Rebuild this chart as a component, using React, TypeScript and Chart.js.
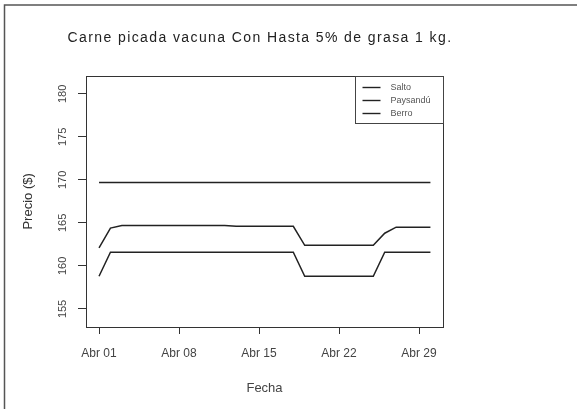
import React, { useEffect, useRef } from "react";
import { Chart, registerables } from "chart.js";

Chart.register(...registerables);

// Días de abril (índice 0 = Abr 01)
const fechas = [
  "Abr 01", "Abr 02", "Abr 03", "Abr 04", "Abr 05", "Abr 06", "Abr 07", "Abr 08", "Abr 09", "Abr 10",
  "Abr 11", "Abr 12", "Abr 13", "Abr 14", "Abr 15", "Abr 16", "Abr 17", "Abr 18", "Abr 19", "Abr 20",
  "Abr 21", "Abr 22", "Abr 23", "Abr 24", "Abr 25", "Abr 26", "Abr 27", "Abr 28", "Abr 29", "Abr 30",
];

const salto = [
  158.8, 161.6, 161.6, 161.6, 161.6, 161.6, 161.6, 161.6, 161.6, 161.6,
  161.6, 161.6, 161.6, 161.6, 161.6, 161.6, 161.6, 161.6, 158.8, 158.8,
  158.8, 158.8, 158.8, 158.8, 158.8, 161.6, 161.6, 161.6, 161.6, 161.6,
];

const paysandu = [
  162.1, 164.4, 164.7, 164.7, 164.7, 164.7, 164.7, 164.7, 164.7, 164.7,
  164.7, 164.7, 164.6, 164.6, 164.6, 164.6, 164.6, 164.6, 162.4, 162.4,
  162.4, 162.4, 162.4, 162.4, 162.4, 163.8, 164.5, 164.5, 164.5, 164.5,
];

const berro = [
  169.7, 169.7, 169.7, 169.7, 169.7, 169.7, 169.7, 169.7, 169.7, 169.7,
  169.7, 169.7, 169.7, 169.7, 169.7, 169.7, 169.7, 169.7, 169.7, 169.7,
  169.7, 169.7, 169.7, 169.7, 169.7, 169.7, 169.7, 169.7, 169.7, 169.7,
];

const seriesNames = ["Salto", "Paysandú", "Berro"];
const xTickPos = [0, 7, 14, 21, 28];
const xTickLabels = ["Abr 01", "Abr 08", "Abr 15", "Abr 22", "Abr 29"];
const yTicks = [155, 160, 165, 170, 175, 180];

const FONT = "'Liberation Sans', Arial, sans-serif";

const spacingPlugin = {
  id: "spacingPlugin",
  afterLayout(chart: any) {
    const tb = chart.titleBlock;
    if (tb && !tb.__wrapped) {
      const orig = tb.draw.bind(tb);
      tb.draw = (...args: any[]) => {
        const ctx = chart.ctx;
        ctx.save();
        (ctx as any).letterSpacing = "1.4px";
        orig(...args);
        ctx.restore();
      };
      tb.__wrapped = true;
    }
  },
};

const framePlugin = {
  id: "framePlugin",
  afterDraw(chart: any) {
    const { ctx, chartArea } = chart;
    ctx.save();
    // outer page frame (top and left)
    ctx.strokeStyle = "#555";
    ctx.lineWidth = 1.5;
    ctx.beginPath();
    ctx.moveTo(4.5, 409);
    ctx.lineTo(4.5, 5);
    ctx.lineTo(577, 5);
    ctx.stroke();
    // plot box
    ctx.strokeStyle = "#333";
    ctx.lineWidth = 1;
    ctx.strokeRect(
      Math.round(chartArea.left) + 0.5,
      Math.round(chartArea.top) + 0.5,
      Math.round(chartArea.right - chartArea.left),
      Math.round(chartArea.bottom - chartArea.top)
    );
    // legend box in top-right corner of plot
    const right = Math.round(chartArea.right) + 0.5;
    const top = Math.round(chartArea.top) + 0.5;
    const bw = 88;
    const bh = 47;
    ctx.strokeStyle = "#444";
    ctx.strokeRect(right - bw, top, bw, bh);
    ctx.font = `9px ${FONT}`;
    ctx.textBaseline = "middle";
    ctx.textAlign = "left";
    chart.data.datasets.forEach((ds: any, i: number) => {
      const y = top + 11 + i * 13;
      ctx.strokeStyle = "#222";
      ctx.lineWidth = 1.4;
      ctx.beginPath();
      ctx.moveTo(right - bw + 7, y);
      ctx.lineTo(right - bw + 25, y);
      ctx.stroke();
      ctx.fillStyle = "#555";
      ctx.fillText(ds.label, right - bw + 35, y);
    });
    ctx.restore();
  },
};

export default function App() {
  const ref = useRef<HTMLCanvasElement | null>(null);

  useEffect(() => {
    if (!ref.current) return;
    const mk = (vals: number[]) => vals.map((v, i) => ({ x: i, y: v }));
    const chart = new Chart(ref.current, {
      type: "line",
      data: {
        labels: fechas,
        datasets: [
          { label: seriesNames[0], data: mk(salto), borderColor: "#222", borderWidth: 1.5, pointRadius: 0, tension: 0 },
          { label: seriesNames[1], data: mk(paysandu), borderColor: "#222", borderWidth: 1.5, pointRadius: 0, tension: 0 },
          { label: seriesNames[2], data: mk(berro), borderColor: "#222", borderWidth: 1.5, pointRadius: 0, tension: 0 },
        ],
      },
      options: {
        animation: false,
        responsive: false,
        events: [],
        layout: { padding: { left: 0, top: 0, right: 57, bottom: 0 } },
        plugins: {
          legend: { display: false },
          tooltip: { enabled: false },
          title: {
            display: true,
            text: "Carne picada vacuna Con Hasta 5% de grasa 1 kg.",
            color: "#222",
            font: { family: FONT, size: 14, weight: "normal" },
            padding: { top: 30, bottom: 29 },
          },
        },
        scales: {
          x: {
            type: "linear",
            min: -1.14,
            max: 30.1,
            afterBuildTicks: (s: any) => {
              s.ticks = xTickPos.map((v) => ({ value: v }));
            },
            afterFit: (s: any) => {
              s.height = 82;
            },
            grid: { display: true, drawOnChartArea: false, drawTicks: true, tickLength: 7, color: "#333", tickColor: "#333" },
            border: { display: false },
            ticks: {
              autoSkip: false,
              maxRotation: 0,
              minRotation: 0,
              padding: 12,
              color: "#444",
              font: { family: FONT, size: 12 },
              callback: (v: any) => {
                const k = xTickPos.indexOf(Number(v));
                return k >= 0 ? xTickLabels[k] : "";
              },
            },
            title: {
              display: true,
              text: "Fecha",
              color: "#444",
              font: { family: FONT, size: 13 },
              padding: { top: 0, bottom: 13 },
            },
          },
          y: {
            type: "linear",
            position: "left",
            min: 152.9,
            max: 182.1,
            afterBuildTicks: (s: any) => {
              s.ticks = yTicks.map((v) => ({ value: v }));
            },
            afterFit: (s: any) => {
              s.width = 86;
            },
            grid: { display: true, drawOnChartArea: false, drawTicks: true, tickLength: 8, color: "#333", tickColor: "#333" },
            border: { display: false },
            ticks: {
              minRotation: 90,
              maxRotation: 90,
              crossAlign: "center",
              padding: 6,
              color: "#444",
              font: { family: FONT, size: 11 },
            },
            title: {
              display: true,
              text: "Precio ($)",
              color: "#333",
              font: { family: FONT, size: 13 },
              padding: { top: 21, bottom: 0 },
            },
          },
          y2: {
            type: "linear",
            position: "right",
            display: true,
            afterFit: (s: any) => {
              s.width = 77;
            },
            grid: { display: false, drawTicks: false },
            border: { display: false },
            ticks: { display: false },
          },
        },
      },
      plugins: [spacingPlugin, framePlugin],
    } as any);
    return () => chart.destroy();
  }, []);

  return (
    <div style={{ position: "fixed", left: 0, top: 0, width: 577, height: 409, background: "#fff" }}>
      <canvas ref={ref} width={577} height={409} style={{ display: "block", width: 577, height: 409 }} />
    </div>
  );
}
